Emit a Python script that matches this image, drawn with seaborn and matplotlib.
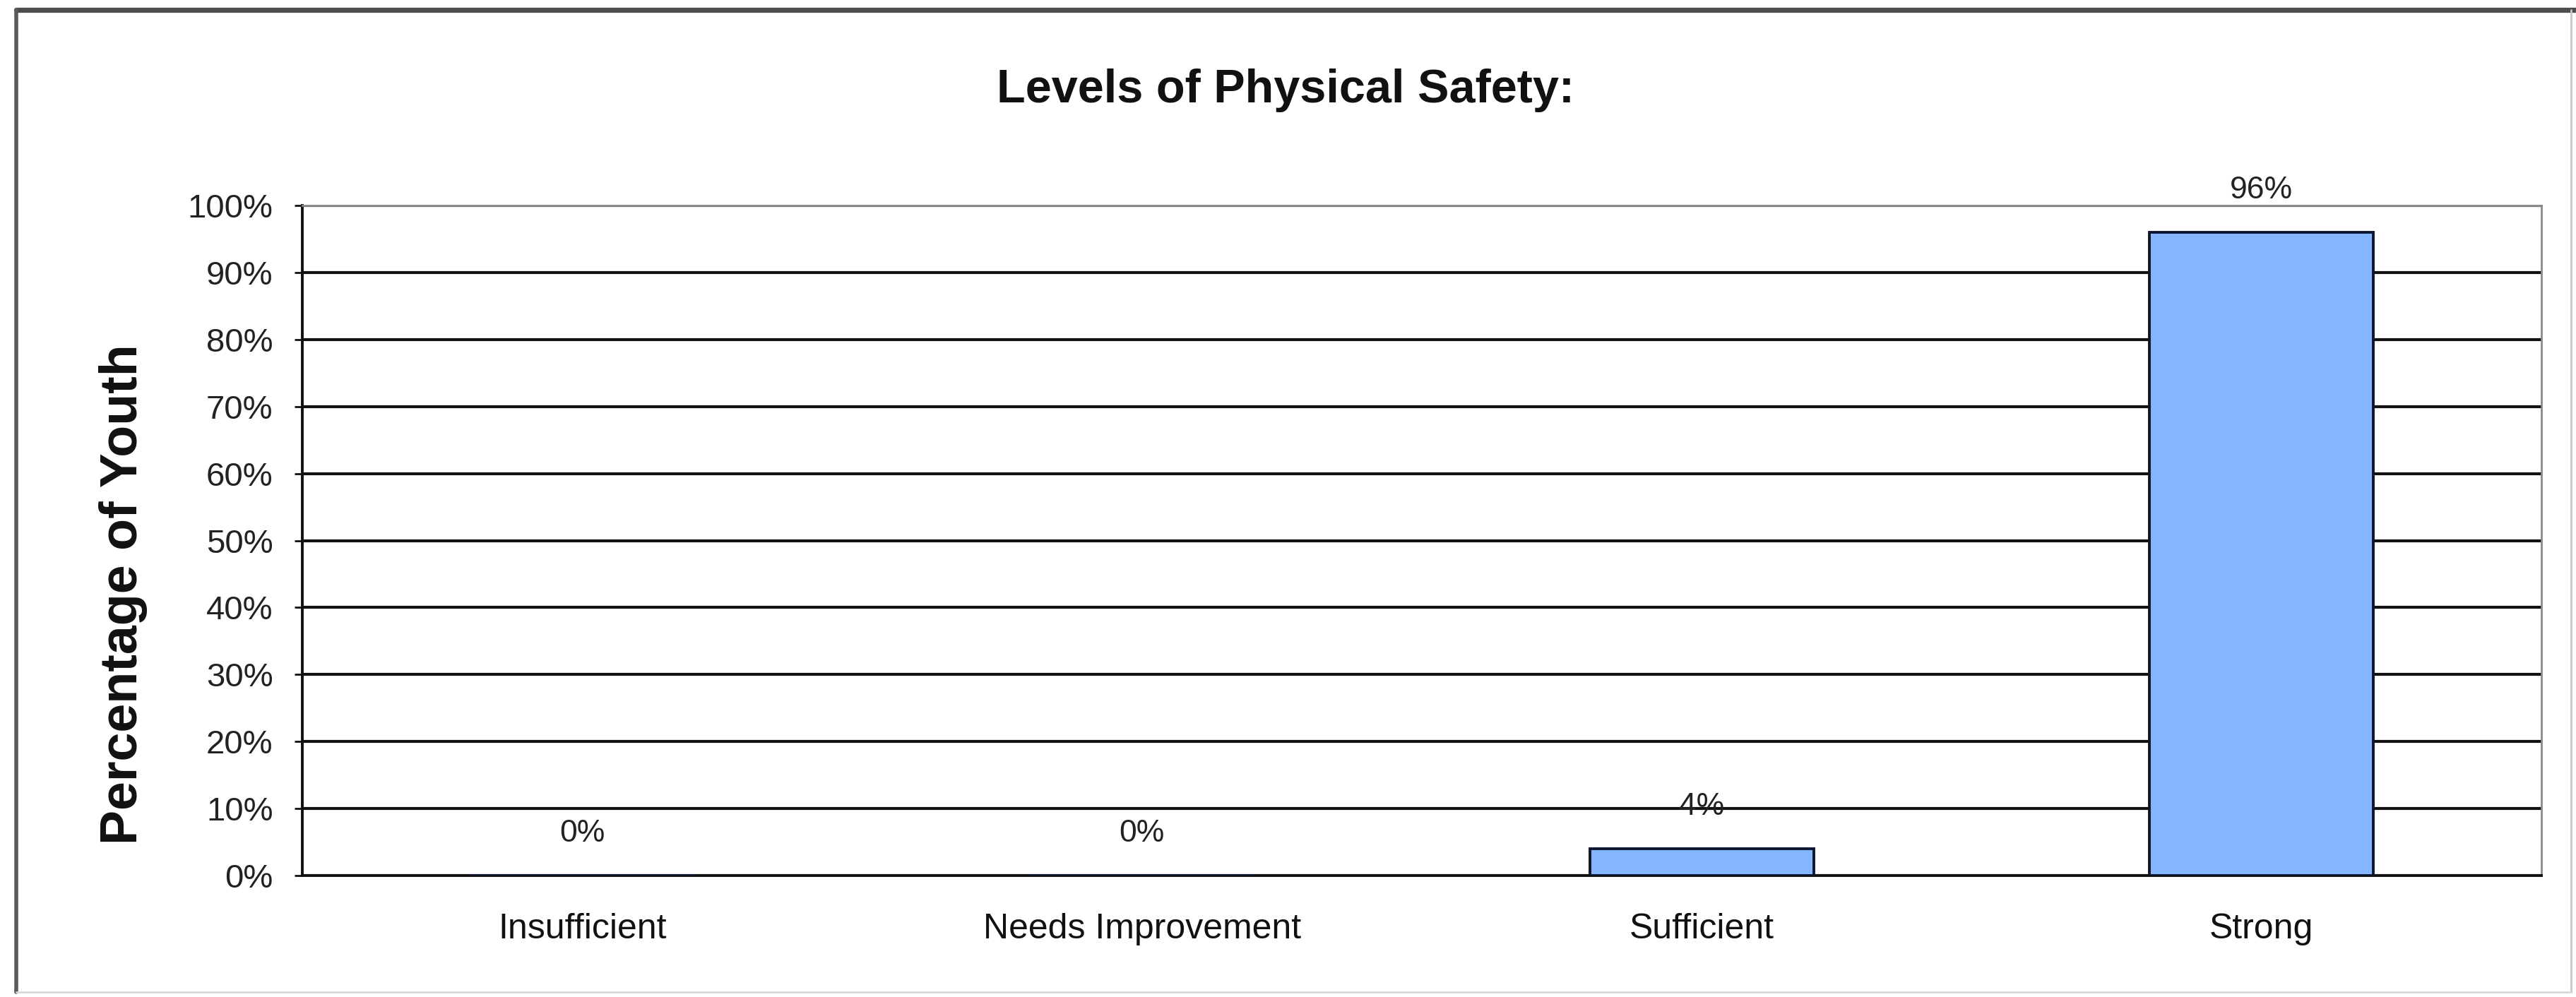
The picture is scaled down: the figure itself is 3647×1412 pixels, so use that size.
import numpy as np
import pandas as pd
import matplotlib
matplotlib.use("Agg")
import matplotlib.pyplot as plt
import seaborn as sns
from matplotlib.ticker import PercentFormatter, FixedLocator
from matplotlib.lines import Line2D

# ── Data ──────────────────────────────────────────────────────────────────────
categories = ["Insufficient", "Needs Improvement", "Sufficient", "Strong"]
shares = [0.00, 0.00, 0.04, 0.96]
y_ticks = [0.0, 0.1, 0.2, 0.3, 0.4, 0.5, 0.6, 0.7, 0.8, 0.9, 1.0]

TITLE = "Levels of Physical Safety:"
Y_LABEL = "Percentage of Youth"

df = pd.DataFrame({"Level": categories, "Share": shares})

# ── Style ─────────────────────────────────────────────────────────────────────
sns.set_theme(style="white")
plt.rcParams["font.family"] = ["Liberation Sans", "DejaVu Sans"]

fig = plt.figure(figsize=(18.235, 7.06), dpi=200)
ax = fig.add_axes([0.1174, 0.1218, 0.8692, 0.6721])

sns.barplot(
    data=df, x="Level", y="Share", ax=ax,
    color="#85B5FF", width=0.4, saturation=1,
    edgecolor="#0B1633", linewidth=1.4, zorder=3,
)

# ── Axes ──────────────────────────────────────────────────────────────────────
ax.set_xlim(-0.5, 3.5)
ax.set_ylim(0, 1)
ax.yaxis.set_major_locator(FixedLocator(y_ticks))
ax.yaxis.set_major_formatter(PercentFormatter(1.0, decimals=0))
ax.grid(axis="y", color="#111111", linewidth=1.5)
ax.grid(axis="x", visible=False)
ax.set_axisbelow(True)

ax.set_xticks(np.arange(-0.5, 4, 1.0), minor=True)
ax.tick_params(axis="x", which="major", length=0, pad=19, labelsize=18, colors="#111111")
ax.tick_params(axis="x", which="minor", length=6, width=1.0, color="#111111", direction="out")
ax.tick_params(axis="y", length=4, width=1.0, color="#111111", pad=11,
               labelsize=17, labelcolor="#222222", direction="out", left=True)

for side in ("left", "bottom"):
    ax.spines[side].set_color("#111111")
    ax.spines[side].set_linewidth(1.4)
for side in ("top", "right"):
    ax.spines[side].set_color("#8a8a8a")
    ax.spines[side].set_linewidth(1.0)

ax.set_xlabel("")
ax.set_ylabel(Y_LABEL, fontsize=26.5, fontweight="bold", color="#111111")
ax.yaxis.set_label_coords(-0.069, 0.42)

# ── Value labels ──────────────────────────────────────────────────────────────
ax.bar_label(ax.containers[0], labels=[f"{v:.0%}" for v in shares],
             padding=14, fontsize=16, color="#222222")

# ── Title and outer frame ─────────────────────────────────────────────────────
fig.text(0.499, 0.909, TITLE, ha="center", va="center",
         fontsize=24, fontweight="bold", color="#111111")

fig.add_artist(Line2D([0.0063, 1.0], [0.990, 0.990], color="#4d4d4d", linewidth=2.6))
fig.add_artist(Line2D([0.0063, 0.0063], [0.005, 0.990], color="#5a5a5a", linewidth=2.0))
fig.add_artist(Line2D([0.998, 0.998], [0.005, 0.990], color="#c8c8c8", linewidth=1.0))
fig.add_artist(Line2D([0.0063, 0.998], [0.005, 0.005], color="#d8d8d8", linewidth=1.0))

fig.savefig("out.png", dpi=200, facecolor="white")
plt.close(fig)
